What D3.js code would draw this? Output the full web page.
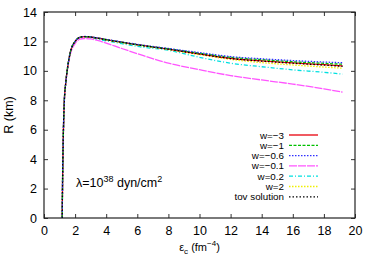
<!DOCTYPE html>
<html>
<head>
<style>
  body { margin: 0; background: #fff; }
  svg text { font-family: "Liberation Sans", Arial, sans-serif; fill: #000; }
</style>
</head>
<body>
<div id="chart"></div>
<script src="https://d3js.org/d3.v7.min.js"></script>
<script>
// central energy density (fm^-4)
const eps = [1.17, 1.2, 1.25, 1.3, 1.4, 1.5, 1.7, 2.0, 2.3, 2.6, 3.0, 3.5, 4, 5, 6, 8, 10, 12, 14, 16, 18, 19.2];

const rW3   = [0, 3.0, 6.0, 7.8, 9.2, 10.1, 11.3, 12.0, 12.28, 12.33, 12.3, 12.22, 12.12, 11.95, 11.78, 11.48, 11.15, 10.85, 10.68, 10.54, 10.42, 10.34];
const rW1   = [0, 3.0, 6.0, 7.8, 9.2, 10.1, 11.3, 12.0, 12.28, 12.33, 12.3, 12.22, 12.12, 11.95, 11.78, 11.5, 11.2, 10.92, 10.76, 10.62, 10.51, 10.45];
const rW06  = [0, 3.0, 6.0, 7.8, 9.2, 10.1, 11.3, 12.0, 12.28, 12.34, 12.31, 12.23, 12.14, 11.97, 11.8, 11.52, 11.24, 10.97, 10.82, 10.7, 10.6, 10.55];
const rW01  = [0, 3.0, 6.0, 7.8, 9.15, 10.0, 11.15, 11.85, 12.15, 12.2, 12.17, 12.05, 11.88, 11.52, 11.17, 10.52, 10.08, 9.68, 9.38, 9.1, 8.78, 8.55];
const rW02  = [0, 3.0, 6.0, 7.8, 9.2, 10.1, 11.3, 12.0, 12.27, 12.31, 12.26, 12.15, 12.04, 11.85, 11.66, 11.4, 10.92, 10.52, 10.28, 10.07, 9.9, 9.78];
const rW2   = [0, 3.0, 6.0, 7.8, 9.2, 10.1, 11.3, 12.0, 12.28, 12.33, 12.29, 12.2, 12.1, 11.92, 11.75, 11.45, 11.1, 10.78, 10.56, 10.4, 10.26, 10.18];
const rTov  = [0, 3.0, 6.0, 7.8, 9.2, 10.1, 11.3, 12.0, 12.28, 12.33, 12.3, 12.21, 12.11, 11.94, 11.77, 11.47, 11.14, 10.84, 10.66, 10.52, 10.39, 10.31];

const labels = ["w=\u22123", "w=\u22121", "w=\u22120.6", "w=\u22120.1", "w=0.2", "w=2", "tov solution"];
const values = [rW3, rW1, rW06, rW01, rW02, rW2, rTov];
const colors = ["#e8000b", "#00c000", "#3030ff", "#ff55ff", "#00e0e0", "#f0f000", "#000000"];
const dashes = [null, "3,1.5", "1.5,1.5", "8,1", "4,2,1,2", "1.5,1.5", "1.5,2"];

const xTicks = d3.range(0, 21, 2);
const yTicks = d3.range(0, 15, 2);

const W = 374, H = 262;
const m = { left: 44, right: 19, top: 12, bottom: 44 };

const svg = d3.select("#chart").append("svg")
  .attr("width", W).attr("height", H);

const x = d3.scaleLinear().domain([0, 20]).range([m.left, W - m.right]);
const y = d3.scaleLinear().domain([0, 14]).range([H - m.bottom, m.top]);

const clipId = "plotclip";
svg.append("clipPath").attr("id", clipId).append("rect")
  .attr("x", m.left).attr("y", m.top)
  .attr("width", x(20) - x(0)).attr("height", y(0) - y(14));

// axes with inward ticks, mirrored on top/right
function styleAxis(g) {
  g.select(".domain").remove();
  g.selectAll("line").attr("stroke", "#333");
  g.selectAll("text").style("font-size", "12.5px");
}
svg.append("g").attr("transform", `translate(0,${y(0)})`)
  .call(d3.axisBottom(x).tickValues(xTicks).tickSize(-4).tickPadding(8))
  .call(styleAxis);
svg.append("g").attr("transform", `translate(0,${y(14)})`)
  .call(d3.axisTop(x).tickValues(xTicks).tickSize(-4).tickFormat(""))
  .call(styleAxis);
svg.append("g").attr("transform", `translate(${x(0)},0)`)
  .call(d3.axisLeft(y).tickValues(yTicks).tickSize(-4).tickPadding(7))
  .call(styleAxis);
svg.append("g").attr("transform", `translate(${x(20)},0)`)
  .call(d3.axisRight(y).tickValues(yTicks).tickSize(-4).tickFormat(""))
  .call(styleAxis);

svg.append("rect")
  .attr("x", x(0)).attr("y", y(14))
  .attr("width", x(20) - x(0)).attr("height", y(0) - y(14))
  .attr("fill", "none").attr("stroke", "#222").attr("stroke-width", 1.2);

const line = d3.line()
  .x((d, i) => x(eps[i]))
  .y(d => y(d))
  .curve(d3.curveMonotoneX);

const order = [3, 4, 5, 0, 1, 2, 6];
order.forEach(k => {
  svg.append("path")
    .datum(values[k])
    .attr("clip-path", `url(#${clipId})`)
    .attr("d", line)
    .attr("fill", "none")
    .attr("stroke", colors[k])
    .attr("stroke-width", 1.3)
    .attr("stroke-dasharray", dashes[k]);
});

// legend
const legX = 284, legY0 = 135, legDy = 10.3;
labels.forEach((t, i) => {
  const yy = legY0 + i * legDy;
  svg.append("text")
    .attr("x", legX).attr("y", yy + 3.5)
    .attr("text-anchor", "end")
    .style("font-size", "9.8px")
    .text(t);
  svg.append("line")
    .attr("x1", 289).attr("x2", 318)
    .attr("y1", yy).attr("y2", yy)
    .attr("stroke", colors[i])
    .attr("stroke-width", 1.3)
    .attr("stroke-dasharray", dashes[i]);
});

// annotation
const ann = svg.append("text").attr("x", 76).attr("y", 187).style("font-size", "12.5px");
ann.append("tspan").text("\u03bb=10");
ann.append("tspan").attr("dy", -5).style("font-size", "9px").text("38");
ann.append("tspan").attr("dy", 5).text(" dyn/cm");
ann.append("tspan").attr("dy", -5).style("font-size", "9px").text("2");

// axis labels
svg.append("text")
  .attr("transform", `translate(13,${(y(0) + y(14)) / 2}) rotate(-90)`)
  .attr("text-anchor", "middle")
  .style("font-size", "12.5px")
  .text("R (km)");

const xl = svg.append("text")
  .attr("x", (x(0) + x(20)) / 2).attr("y", 251)
  .attr("text-anchor", "middle")
  .style("font-size", "11px");
xl.append("tspan").text("\u03b5");
xl.append("tspan").attr("dy", 3).style("font-size", "8px").text("c");
xl.append("tspan").attr("dy", -3).text(" (fm");
xl.append("tspan").attr("dy", -5).style("font-size", "8px").text("\u22124");
xl.append("tspan").attr("dy", 5).text(")");
</script>
</body>
</html>
